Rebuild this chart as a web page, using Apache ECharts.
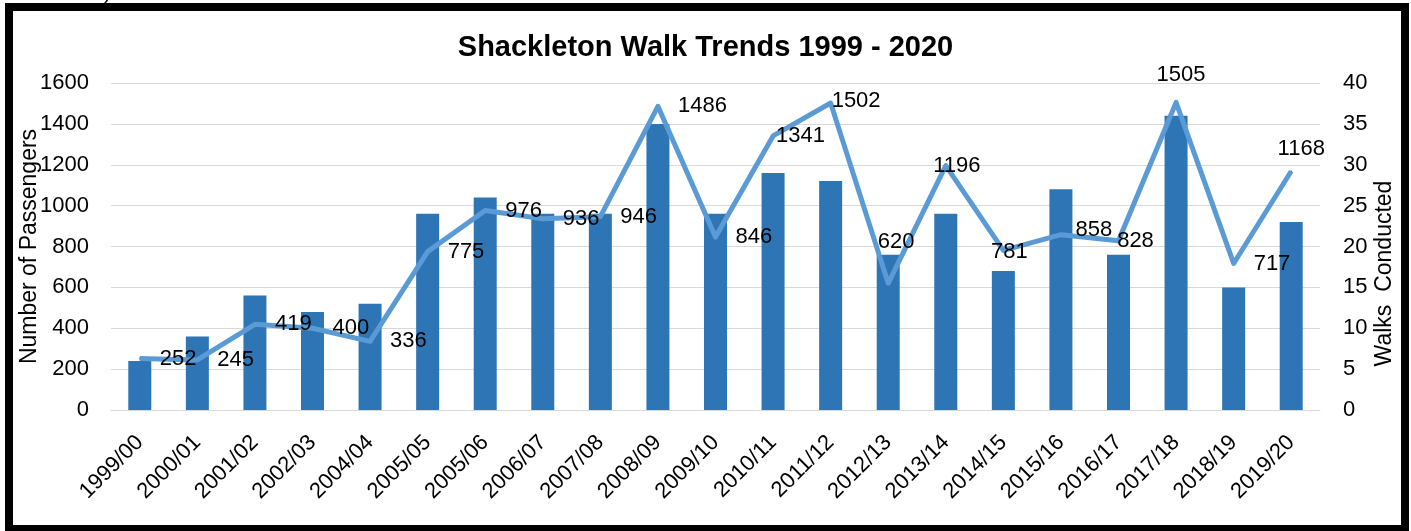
<!DOCTYPE html>
<html>
<head>
<meta charset="utf-8">
<title>Shackleton Walk Trends 1999 - 2020</title>
<script src="https://cdn.jsdelivr.net/npm/echarts@6/dist/echarts.min.js"></script>
<style>
  html, body { margin: 0; padding: 0; background: #fff; }
  #chart { width: 1411px; height: 531px; }
</style>
</head>
<body>
<div id="chart"></div>
<script>
// data
const seasons = ['1999/00', '2000/01', '2001/02', '2002/03', '2004/04', '2005/05', '2005/06',
  '2006/07', '2007/08', '2008/09', '2009/10', '2010/11', '2011/12', '2012/13', '2013/14',
  '2014/15', '2015/16', '2016/17', '2017/18', '2018/19', '2019/20']
const walksConducted = [6, 9, 14, 12, 13, 24, 26, 24, 24, 35, 24, 29, 28, 19, 24, 17, 27, 19, 36, 15, 23]
const passengers = [252, 245, 419, 400, 336, 775, 976, 936, 946, 1486, 846, 1341, 1502, 620, 1196,
  781, 858, 828, 1505, 717, 1168]
const passengerTicks = [0, 200, 400, 600, 800, 1000, 1200, 1400, 1600]
const walkTicks = [0, 5, 10, 15, 20, 25, 30, 35, 40]

const FONT = '"Liberation Sans", Arial, sans-serif'

// a few labels were nudged by hand in the original, keyed by season index
const labelNudge = {
  11: { position: 'right', distance: 2 },
  12: { position: 'right', distance: 0, offset: [0, -2] },
  13: { position: 'inside', offset: [8, -41] },
  14: { position: 'inside', offset: [11, 0] },
  15: { position: 'inside', offset: [6, 2] },
  16: { position: 'inside', offset: [33, -5] },
  17: { position: 'inside', offset: [17, 0] },
  18: { position: 'inside', offset: [5, -27] },
  20: { position: 'inside', offset: [10, -22] }
}

const lineData = passengers.map((v, i) => labelNudge[i] ? { value: v, label: labelNudge[i] } : v)

const chart = echarts.init(document.getElementById('chart'), null, { renderer: 'canvas' })

const option = {
  backgroundColor: '#fff',
  animation: false,
  textStyle: { fontFamily: FONT },
  title: {
    text: 'Shackleton Walk Trends 1999 - 2020',
    left: 'center',
    top: 28,
    textStyle: { fontFamily: FONT, fontSize: 29, fontWeight: 'bold', color: '#000' }
  },
  grid: { left: 111, right: 91, top: 83, bottom: 121 },
  xAxis: {
    type: 'category',
    data: seasons,
    axisTick: { show: false },
    axisLine: { lineStyle: { color: '#d9d9d9', width: 1 } },
    axisLabel: { rotate: 45, margin: 29, fontSize: 22, color: '#000', fontFamily: FONT, interval: 0 }
  },
  yAxis: [
    {
      type: 'value',
      min: passengerTicks[0],
      max: passengerTicks[passengerTicks.length - 1],
      interval: passengerTicks[1] - passengerTicks[0],
      name: 'Number of Passengers',
      nameLocation: 'middle',
      nameRotate: 90,
      nameGap: 70,
      nameMoveOverlap: false,
      nameTextStyle: { fontSize: 23, color: '#000', fontFamily: FONT },
      axisLine: { show: false },
      axisTick: { show: false },
      axisLabel: { fontSize: 22, color: '#000', margin: 22, fontFamily: FONT, formatter: v => String(v) },
      splitLine: { lineStyle: { color: '#d9d9d9', width: 1 } }
    },
    {
      type: 'value',
      min: walkTicks[0],
      max: walkTicks[walkTicks.length - 1],
      interval: walkTicks[1] - walkTicks[0],
      name: 'Walks  Conducted',
      nameLocation: 'middle',
      nameRotate: 90,
      nameGap: 53,
      nameMoveOverlap: false,
      nameTextStyle: { fontSize: 23, color: '#000', fontFamily: FONT, padding: [0, 54, 0, 0] },
      axisLine: { show: false },
      axisTick: { show: false },
      axisLabel: { fontSize: 22, color: '#000', margin: 23, fontFamily: FONT },
      splitLine: { show: false }
    }
  ],
  series: [
    {
      name: 'Walks Conducted',
      type: 'bar',
      yAxisIndex: 1,
      data: walksConducted,
      barWidth: 23,
      itemStyle: { color: '#2e75b6' }
    },
    {
      name: 'Number of Passengers',
      type: 'line',
      yAxisIndex: 0,
      data: lineData,
      symbol: 'circle',
      symbolSize: 2,
      itemStyle: { color: '#5b9bd5' },
      lineStyle: { color: '#5b9bd5', width: 5, join: 'round' },
      label: {
        show: true,
        position: 'right',
        distance: 19,
        fontSize: 22,
        color: '#000',
        fontFamily: FONT
      },
      z: 3
    }
  ],
  graphic: [
    {
      type: 'rect',
      shape: { x: 9, y: 7, width: 1396, height: 522 },
      style: { fill: 'none', stroke: '#000', lineWidth: 8 },
      silent: true,
      z: 100
    },
    {
      type: 'text',
      left: 104,
      top: -19,
      style: { text: ')', fontSize: 22, fill: '#000', fontFamily: FONT },
      silent: true
    }
  ]
}

chart.setOption(option)
window.addEventListener('resize', () => chart.resize())
</script>
</body>
</html>
